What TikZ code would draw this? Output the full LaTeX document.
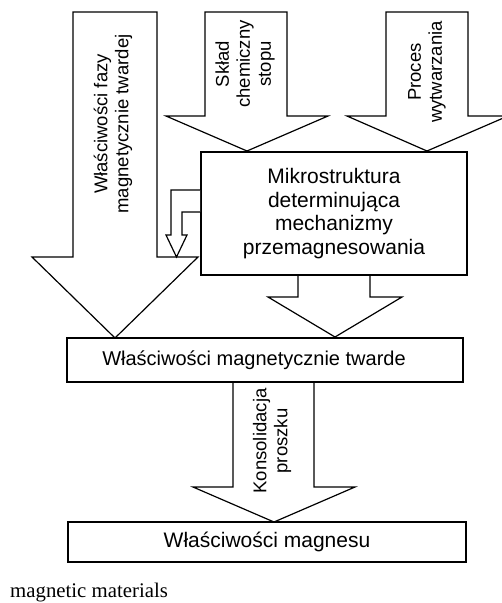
\documentclass[tikz,border=0pt]{standalone}
\usepackage{fontspec}
\setmainfont{Liberation Sans}
\newfontfamily\capfont{Liberation Serif}
\begin{document}
\begin{tikzpicture}[x=1pt,y=-1pt,
  arr/.style={draw, fill=white, line width=1.2pt, line join=miter},
  box/.style={draw, fill=white, line width=1.6pt, rectangle, inner sep=0pt},
  hlbl/.style={font=\fontsize{21}{23.5}\selectfont, align=center, inner sep=0pt},
  vlbl/.style={font=\fontsize{18.5}{21}\selectfont, align=center, inner sep=0pt, rotate=90}]
\useasboundingbox (0,0) rectangle (502,603);
% block arrows
\draw[arr] (73,12) -- (157,12) -- (157,257) -- (198,257) -- (115,338) -- (32,257) -- (73,257) -- cycle;
\draw[arr] (205,12) -- (287,12) -- (287,116) -- (328,116) -- (247,151) -- (166,116) -- (205,116) -- cycle;
\draw[arr] (386,12) -- (468,12) -- (468,116) -- (508,116) -- (427,151) -- (347,116) -- (386,116) -- cycle;
\draw[arr] (298,275) -- (370,275) -- (370,297) -- (402,297) -- (335,337) -- (268,297) -- (298,297) -- cycle;
\draw[arr] (233,382) -- (314,382) -- (314,487) -- (355,487) -- (274,522) -- (193,487) -- (233,487) -- cycle;
% boxes
\node[box, minimum width=266pt, minimum height=123pt] (micro) at (334,213.5) {};
\node[box, minimum width=396pt, minimum height=44pt] (hard) at (265,360) {};
\node[box, minimum width=398pt, minimum height=40pt] (magnet) at (267,542) {};
% small bent arrow
\draw[arr] (micro.west |- 0,190) -- (171,190) -- (171,235) -- (166,235) -- (176.5,257) -- (187,235) -- (182,235) -- (182,212) -- (micro.west |- 0,212);
% texts
\node[vlbl] (t1) at (113,124) {Właściwości fazy\\magnetycznie twardej};
\node[vlbl] (t2) at (245,64) {Skład\\chemiczny\\stopu};
\node[vlbl] (t3) at (427,72) {Proces\\wytwarzania};
\node[vlbl] (t4) at (272,441) {Konsolidacja\\proszku};
\node[hlbl] (t5) at (micro.center) {Mikrostruktura\\determinująca\\mechanizmy\\przemagnesowania};
\node[hlbl, font=\fontsize{20}{23.5}\selectfont] (t6) at (254,360) {Właściwości magnetycznie twarde};
\node[hlbl] (t7) at (magnet.center) {Właściwości magnesu};
\node[anchor=base west, inner sep=0pt, font=\capfont\fontsize{20.8}{22}\selectfont] (cap) at (10,597) {magnetic materials};
\end{tikzpicture}
\end{document}
